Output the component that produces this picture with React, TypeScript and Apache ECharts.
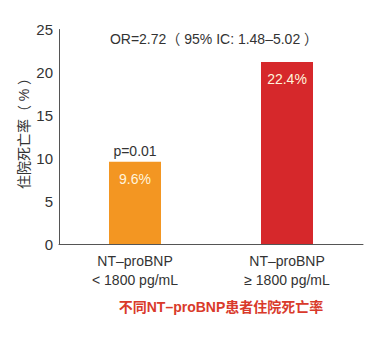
import React, { useEffect, useRef } from "react";
import * as echarts from "echarts";

const categories = ["NT\u2013proBNP\n< 1800 pg/mL", "NT\u2013proBNP\n\u2265 1800 pg/mL"];
const barValues = [9.6, 21.2];
const barLabels = ["9.6%", "22.4%"];
const barColors = ["#F39622", "#D6282B"];
const yTicks = [0, 5, 10, 15, 20, 25];
const pValueText = "p=0.01";
const orText = "OR=2.72\uFF08 95% IC: 1.48\u20135.02 \uFF09";
const bottomTitle = "不同NT\u2013proBNP患者住院死亡率";
const yName = "住院死亡率\uFF08 % \uFF09";

const FONT = "'Liberation Sans', 'Noto Sans CJK SC', sans-serif";

export default function App() {
  const ref = useRef<HTMLDivElement>(null);
  useEffect(() => {
    document.body.style.margin = "0";
    if (!ref.current) return;
    const chart = echarts.init(ref.current, null, { renderer: "svg" });
    chart.setOption({
      animation: false,
      backgroundColor: "#ffffff",
      textStyle: { fontFamily: FONT },
      title: [
        {
          text: orText,
          left: 209,
          top: 27,
          textAlign: "center",
          textStyle: { fontSize: 14, fontWeight: "normal", color: "#333", fontFamily: FONT },
        },
        {
          text: bottomTitle,
          left: 216,
          top: 295,
          textAlign: "center",
          textStyle: { fontSize: 14, fontWeight: "bold", color: "#D93A2B", fontFamily: FONT },
        },
      ],
      graphic: [
        {
          type: "text",
          x: 24,
          y: 130,
          rotation: Math.PI / 2,
          style: {
            text: yName,
            fill: "#333",
            font: `14px ${FONT}`,
            align: "center",
            verticalAlign: "middle",
          },
        },
      ],
      grid: { left: 59, right: 28, top: 29.5, bottom: 96, containLabel: false },
      xAxis: {
        type: "category",
        data: categories,
        axisLine: { lineStyle: { color: "#555", width: 1 } },
        axisTick: { show: false },
        axisLabel: { color: "#333", fontSize: 14, lineHeight: 19, margin: 7, fontFamily: FONT },
      },
      yAxis: {
        type: "value",
        min: yTicks[0],
        max: yTicks[yTicks.length - 1],
        interval: 5,
        axisLine: { show: true, lineStyle: { color: "#555", width: 1 } },
        axisTick: { show: false },
        splitLine: { show: false },
        axisLabel: { color: "#333", fontSize: 15, margin: 6, fontFamily: FONT },
      },
      series: [
        {
          type: "bar",
          barWidth: 52,
          data: barValues.map((v, i) => ({
            value: v,
            itemStyle: { color: barColors[i] },
            label: {
              show: true,
              position: "insideTop",
              distance: 10,
              formatter: barLabels[i],
              color: "#FFF4DC",
              fontSize: 14,
              fontFamily: FONT,
            },
          })),
        },
        {
          type: "scatter",
          symbolSize: 0,
          itemStyle: { opacity: 1 },
          data: [[0, barValues[0]]],
          label: {
            show: true,
            position: "top",
            distance: 4,
            formatter: pValueText,
            color: "#333",
            fontSize: 14,
            fontFamily: FONT,
          },
          silent: true,
        },
      ],
    });
    return () => chart.dispose();
  }, []);
  return <div ref={ref} style={{ width: 391, height: 340 }} />;
}
